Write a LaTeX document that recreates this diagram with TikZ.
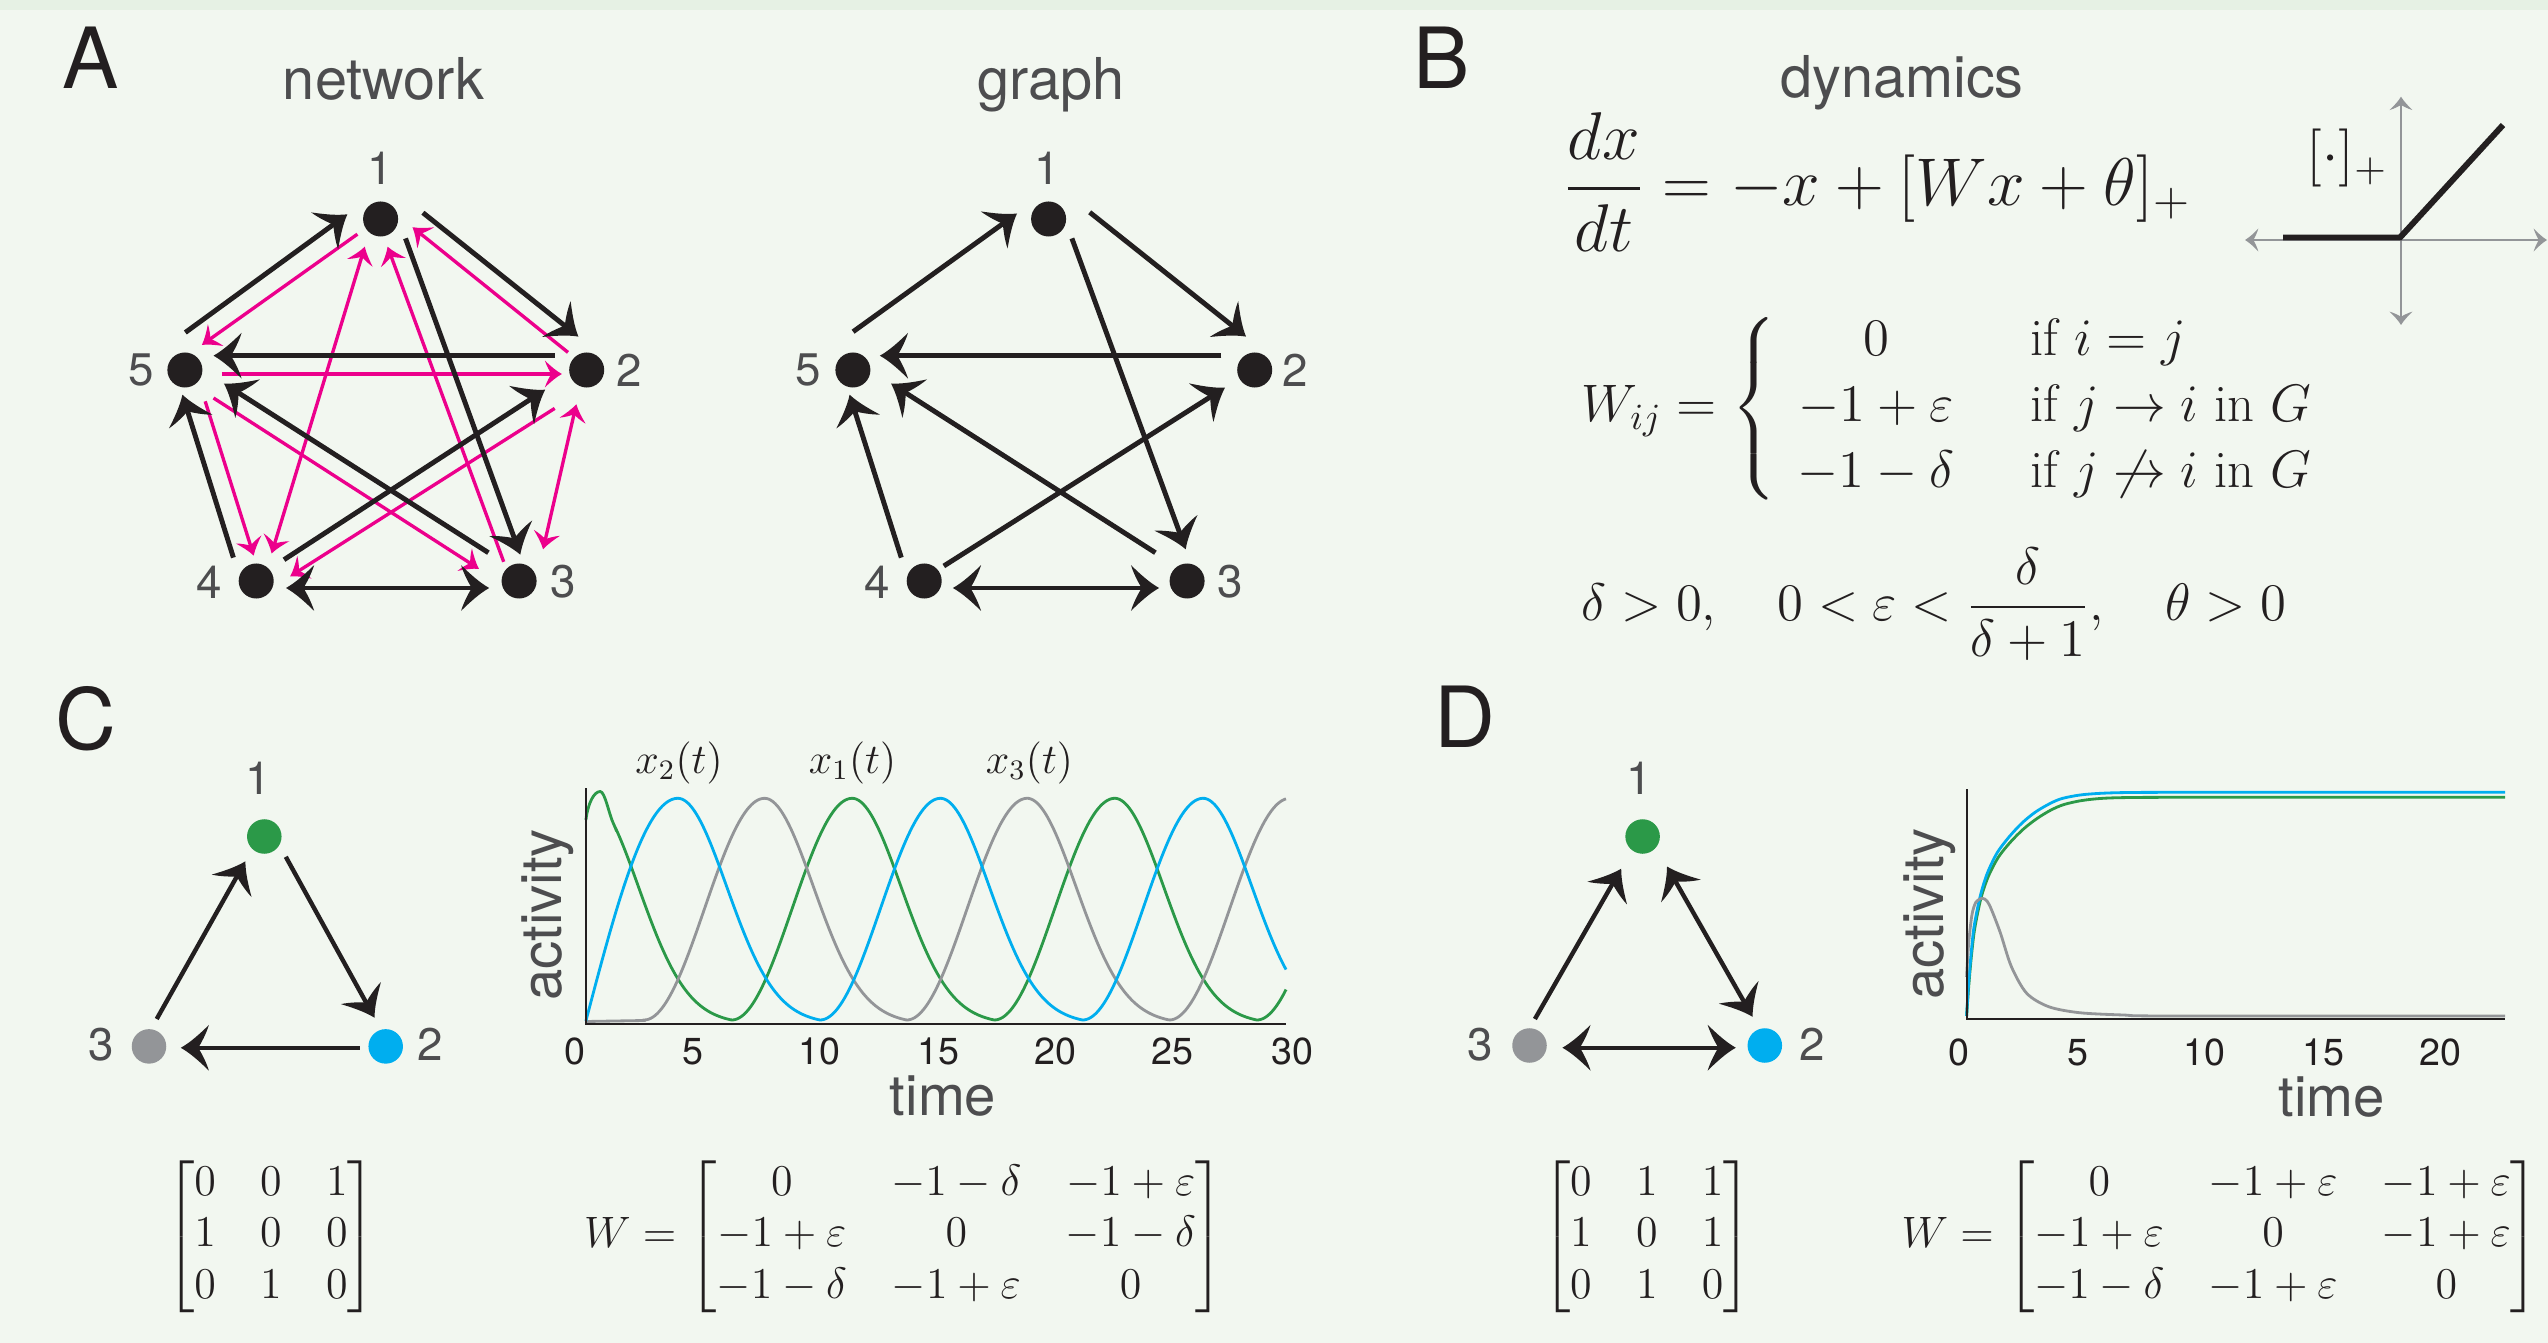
\RequirePackage{fix-cm}
\documentclass[tikz,border=0pt]{standalone}
\usepackage{amsmath}
\usepackage{fontspec}
\newfontfamily\hv{TeX Gyre Heros}
\usetikzlibrary{arrows.meta,calc}

\pgfdeclarearrow{
  name = Fin,
  parameters = {\the\pgfarrowlength,\the\pgfarrowwidth},
  setup code = {
    \pgfarrowssettipend{0pt}
    \pgfarrowssetlineend{-0.52\pgfarrowlength}
    \pgfarrowssetvisualbackend{-0.6\pgfarrowlength}
    \pgfarrowssetbackend{-\pgfarrowlength}
    \pgfarrowshullpoint{0pt}{0pt}
    \pgfarrowsupperhullpoint{-\pgfarrowlength}{0.5\pgfarrowwidth}
    \pgfarrowssavethe\pgfarrowlength
    \pgfarrowssavethe\pgfarrowwidth
  },
  drawing code = {
    \pgfpathmoveto{\pgfqpoint{0pt}{0pt}}
    \pgfpathcurveto{\pgfqpoint{-0.35\pgfarrowlength}{0.12\pgfarrowwidth}}{\pgfqpoint{-0.7\pgfarrowlength}{0.32\pgfarrowwidth}}{\pgfqpoint{-\pgfarrowlength}{0.5\pgfarrowwidth}}
    \pgfpathcurveto{\pgfqpoint{-0.9\pgfarrowlength}{0.3\pgfarrowwidth}}{\pgfqpoint{-0.72\pgfarrowlength}{0.1\pgfarrowwidth}}{\pgfqpoint{-0.62\pgfarrowlength}{0pt}}
    \pgfpathcurveto{\pgfqpoint{-0.72\pgfarrowlength}{-0.1\pgfarrowwidth}}{\pgfqpoint{-0.9\pgfarrowlength}{-0.3\pgfarrowwidth}}{\pgfqpoint{-\pgfarrowlength}{-0.5\pgfarrowwidth}}
    \pgfpathcurveto{\pgfqpoint{-0.7\pgfarrowlength}{-0.32\pgfarrowwidth}}{\pgfqpoint{-0.35\pgfarrowlength}{-0.12\pgfarrowwidth}}{\pgfqpoint{0pt}{0pt}}
    \pgfpathclose
    \pgfusepathqfill
  },
  defaults = {length = 8pt, width = 13pt}
}

\definecolor{ink}{HTML}{231F20}
\definecolor{pnk}{HTML}{EC008C}
\definecolor{txtg}{HTML}{4D4D4F}
\definecolor{cgreen}{HTML}{2B9948}
\definecolor{cblue}{HTML}{00AEEF}
\definecolor{cgray}{HTML}{939598}
\definecolor{bgc}{HTML}{F2F7F0}
\definecolor{bgtop}{HTML}{E6F1E4}

\tikzset{
  dot/.style={circle, fill=ink, draw=none, minimum size=0.35cm, inner sep=0pt},
  cdot/.style={circle, draw=none, minimum size=0.345cm, inner sep=0pt},
  numlbl/.style={text=txtg, font=\hv\fontsize{13}{13}\selectfont, inner sep=0pt},
  title/.style={text=txtg, font=\hv\fontsize{16.4}{18}\selectfont, inner sep=0pt, anchor=base},
  panel/.style={text=ink, font=\hv\fontsize{24}{26}\selectfont, inner sep=0pt, anchor=base west},
  blk/.style={color=ink, line width=1.4pt, >={Fin[length=8pt,width=13pt]}},
  pnkl/.style={color=pnk, line width=0.95pt, >={Fin[length=4.8pt,width=7.6pt]}},
  tri/.style={color=ink, line width=1.25pt, >={Fin[length=8pt,width=13pt]}},
  gax/.style={color=cgray, line width=0.75pt, >={Fin[length=3.8pt,width=6.5pt]}},
  axl/.style={draw=ink, line width=0.5pt},
  cw/.style={line width=0.8pt},
  tick/.style={text=ink, font=\hv\fontsize{10.7}{11}\selectfont, inner sep=0pt},
  axlbl/.style={text=txtg, font=\hv\fontsize{16}{17}\selectfont, inner sep=0pt},
  mth/.style={text=ink, inner sep=0pt},
}

\begin{document}
\begin{tikzpicture}[x=0.01cm, y=-0.01cm,
  declare function={
    tw(\va)=\va-262.6*floor((\va+120.5)/262.6);
    hh(\vb)=ifthenelse(\vb<0, 0.5+0.5*cos(1.49378*\vb), exp(0-(\vb/69)*(\vb/69))-0.0145*\vb/142.1);
    wave(\vc,\vd)=hh(tw(\vc-\vd));
  }]
\useasboundingbox (0,0) rectangle (2548,1343);
\fill[bgc] (0,0) rectangle (2548,1343);
\fill[bgtop] (0,0) rectangle (2548,10);

% ---------- panel letters and titles
\node[panel] (pA) at (62,89) {A};
\node[panel] (pB) at (1413,89) {B};
\node[panel] (pC) at (55,749) {C};
\node[panel] (pD) at (1434,747) {D};
\node[title] (tnet) at (383.5,99.5) {network};
\node[title] (tgr) at (1051,99.5) {graph};
\node[title] (tdyn) at (1902,98) {dynamics};

% ---------- network
\node[dot] (a1) at (380.6,219) {};
\node[dot] (a2) at (586.7,370) {};
\node[dot] (a3) at (519.1,581) {};
\node[dot] (a4) at (256.2,581) {};
\node[dot] (a5) at (184.9,370) {};
\node[numlbl] (la1) at (380.6,168) {1};
\node[numlbl] (la2) at (629,370) {2};
\node[numlbl] (la3) at (563,582) {3};
\node[numlbl] (la4) at (209,582) {4};
\node[numlbl] (la5) at (141,370) {5};

\draw[pnkl,->] ($(a1)+(-23.2,15.2)$) -- ($(a5)+(17,-25.1)$);
\draw[pnkl,->] ($(a2)+(-18.7,-17.6)$) -- ($(a1)+(31.9,8.2)$);
\draw[pnkl,->] ($(a5)+(36.9,4)$) -- ($(a2)+(-24.9,4)$);
\draw[pnkl,<->] ($(a1)+(-15.8,27.7)$) -- ($(a4)+(15.4,-27.5)$);
\draw[pnkl,->] ($(a3)+(-15.4,-19.2)$) -- ($(a1)+(7,27.7)$);
\draw[pnkl,<->] ($(a2)+(-10.4,34.2)$) -- ($(a3)+(24,-31.7)$);
\draw[pnkl,->] ($(a5)+(20.3,31.3)$) -- ($(a4)+(-2.5,-25.4)$);
\draw[pnkl,->] ($(a5)+(28.6,28)$) -- ($(a3)+(-40.2,-12.2)$);
\draw[pnkl,->] ($(a2)+(-32,38.4)$) -- ($(a4)+(34,-4.7)$);

\draw[blk,->] ($(a5)+(0.4,-37.5)$) -- ($(a1)+(-33.2,-4.7)$);
\draw[blk,->] ($(a1)+(42.3,-6.3)$) -- ($(a2)+(-8.3,-33.4)$);
\draw[blk,->] ($(a1)+(24.9,19.4)$) -- ($(a3)+(1.2,-26.3)$);
\draw[blk,->] ($(a2)+(-32,-14.3)$) -- ($(a5)+(28.6,-14.3)$);
\draw[blk,->] ($(a3)+(-30.7,-28.3)$) -- ($(a5)+(39,13.5)$);
\draw[blk,->] ($(a4)+(-22.8,-23.4)$) -- ($(a5)+(-2.5,24.7)$);
\draw[blk,->] ($(a4)+(27.8,-21.3)$) -- ($(a2)+(-41.5,19.7)$);
\draw[blk,<->] ($(a4)+(29.8,7)$) -- ($(a3)+(-29.9,7)$);

% ---------- graph
\node[dot] (b1) at (1048.6,219) {};
\node[dot] (b2) at (1254.7,370) {};
\node[dot] (b3) at (1187.1,581) {};
\node[dot] (b4) at (924.2,581) {};
\node[dot] (b5) at (852.9,370) {};
\node[numlbl] (lb1) at (1047,168) {1};
\node[numlbl] (lb2) at (1295,370) {2};
\node[numlbl] (lb3) at (1230,582) {3};
\node[numlbl] (lb4) at (877,582) {4};
\node[numlbl] (lb5) at (808,370) {5};

\draw[blk,->] ($(b5)+(0.2,-38.3)$) -- ($(b1)+(-31.6,-5.5)$);
\draw[blk,->] ($(b1)+(41.1,-6.7)$) -- ($(b2)+(-8.7,-33.4)$);
\draw[blk,->] ($(b1)+(23.3,19.4)$) -- ($(b3)+(-1.4,-31.7)$);
\draw[blk,->] ($(b2)+(-33.3,-14.3)$) -- ($(b5)+(27,-14.3)$);
\draw[blk,->] ($(b3)+(-31.7,-28.3)$) -- ($(b5)+(38.1,13.5)$);
\draw[blk,->] ($(b4)+(-22.9,-23.4)$) -- ($(b5)+(-3.3,24.7)$);
\draw[blk,->] ($(b4)+(19.6,-15)$) -- ($(b2)+(-29.7,17.6)$);
\draw[blk,<->] ($(b4)+(28.7,7)$) -- ($(b3)+(-28,7)$);

% ---------- B: dynamics
\node[mth, anchor=base west, font=\fontsize{19.2}{21}\selectfont] (eq1) at (1563,205.4)
  {$\displaystyle \frac{dx}{dt} = -x + [Wx+\theta]_+$};
\node[mth, anchor=base west, font=\fontsize{15}{18.8}\selectfont] (eq2) at (1581,421.7)
  {$W_{ij} = \left\{\begin{array}{@{\hspace{6pt}}c@{\hspace{21.8pt}}l@{}}
     0 & \text{if } i=j\\
     -1+\varepsilon & \text{if } j\to i \text{ in } G\\
     -1-\delta & \text{if } j\not\to i \text{ in } G
   \end{array}\right.$};
\node[mth, anchor=base west, font=\fontsize{15}{15.7}\selectfont] (eq3) at (1581,620)
  {$\delta>0,\quad 0<\varepsilon<\dfrac{\delta}{\delta+1},\quad \theta>0$};

% ReLU sketch
\coordinate (rO) at (2401,240);
\draw[gax,<->] ($(rO)+(-156,0)$) -- ($(rO)+(146,0)$);
\draw[gax,<->] ($(rO)+(0,-143.3)$) -- ($(rO)+(0,85)$);
\draw[ink, line width=1.7pt] ($(rO)+(-118,-2.5)$) -- ($(rO)+(-1,-2.5)$) -- ($(rO)+(102,-115)$);
\node[mth, anchor=west, font=\fontsize{16.5}{18}\selectfont] (relu) at (2306,158) {$[\cdot]_+$};

% ---------- C
\node[numlbl] (lc1) at (258.3,778) {1};
\node[numlbl] (lc3) at (101.6,1044.7) {3};
\node[numlbl] (lc2) at (430.5,1044.7) {2};
\node[cdot, fill=cgreen] (c1) at (264.3,836.5) {};
\node[cdot, fill=cblue] (c2) at (385.7,1046.4) {};
\node[cdot, fill=cgray] (c3) at (149,1046.4) {};
\draw[tri,->] ($(c3)+(7.7,-27.4)$) -- ($(c1)+(-18.9,24.8)$);
\draw[tri,->] ($(c1)+(21.5,20.3)$) -- ($(c2)+(-11.2,-28.7)$);
\draw[tri,->] ($(c2)+(-25.8,1.4)$) -- ($(c3)+(31.8,1.4)$);

% plot C
\draw[cgreen,cw] (585.9,820) .. controls (588,803) and (594,791.5) .. (600.2,791.5)
   .. controls (605,791.5) and (609,814.8) .. (614,824.9)
   -- plot[domain=614:1286, samples=340, variable=\xx] (\xx,{1020-221.7*wave(\xx,589.6)});
\draw[cgray,cw] (585.9,1021.5) -- (644.1,1020.5) -- plot[domain=644.1:1286, samples=300, variable=\xx] (\xx,{1020-221.7*wave(\xx,502)});
\draw[cblue,cw] plot[domain=585.9:677.9, samples=60, variable=\xx] (\xx,{1021-222.7*sin(0.97826*(\xx-585.9))})
   -- plot[domain=677.9:1286, samples=300, variable=\xx] (\xx,{1020-221.7*wave(\xx,677.9)});
\draw[axl] (585.9,788.3) -- (585.9,1024) -- (1286,1024);
\node[tick] (tc0) at (574.7,1051.5) {0};
\node[tick] (tc5) at (693,1051.5) {5};
\node[tick] (tc10) at (819.6,1051.5) {10};
\node[tick] (tc15) at (938,1051.5) {15};
\node[tick] (tc20) at (1055.3,1051.5) {20};
\node[tick] (tc25) at (1172.7,1051.5) {25};
\node[tick] (tc30) at (1292.6,1051.5) {30};
\node[axlbl, anchor=base] (timeC) at (943,1115) {time};
\node[axlbl, rotate=90] (actC) at (547.6,915) {activity};
\node[mth, anchor=base, font=\fontsize{12}{13}\selectfont] (x2l) at (679,773) {$x_2(t)$};
\node[mth, anchor=base, font=\fontsize{12}{13}\selectfont] (x1l) at (852.5,773) {$x_1(t)$};
\node[mth, anchor=base, font=\fontsize{12}{13}\selectfont] (x3l) at (1029.4,773) {$x_3(t)$};

% matrices C
\node[mth, font=\fontsize{12.5}{14.7}\selectfont] (adjC) at (271,1236.4)
  {\setlength{\arraycolsep}{6.3pt}$\begin{bmatrix}0&0&1\\1&0&0\\0&1&0\end{bmatrix}$};
\node[mth, font=\fontsize{12.5}{14.7}\selectfont] (WC) at (904,1236.4)
  {\setlength{\arraycolsep}{6.3pt}$W=\begin{bmatrix}0&-1-\delta&-1+\varepsilon\\-1+\varepsilon&0&-1-\delta\\-1-\delta&-1+\varepsilon&0\end{bmatrix}$};

% ---------- D
\node[numlbl] (ld1) at (1638.8,778) {1};
\node[numlbl] (ld3) at (1479.9,1044.6) {3};
\node[numlbl] (ld2) at (1812.2,1044.6) {2};
\node[cdot, fill=cgreen] (d1) at (1642.6,836.5) {};
\node[cdot, fill=cblue] (d2) at (1764.8,1045.5) {};
\node[cdot, fill=cgray] (d3) at (1529.5,1045.5) {};
\draw[tri,->] ($(d3)+(5.4,-26.5)$) -- ($(d1)+(-21.4,32.2)$);
\draw[tri,<->] ($(d1)+(24.4,30)$) -- ($(d2)+(-12.2,-28.7)$);
\draw[tri,<->] ($(d3)+(32.9,2.2)$) -- ($(d2)+(-29,2.2)$);

% plot D
\draw[cgreen,cw] plot[smooth, tension=0.5] coordinates {(1966.6,1016) (1968.8,985) (1971.5,955) (1974.8,928) (1981,898) (1988.5,876) (1998.5,857) (2010.5,842) (2023.5,829) (2037,818.5) (2051,810) (2064,804.5) (2082,800.5) (2103,798.3) (2132,797.5) (2200,797.3) (2505,797.3)};
\draw[cblue,cw] plot[smooth, tension=0.5] coordinates {(1966.6,1016) (1968.5,985) (1971,955) (1974,927) (1980,897) (1987,874) (1997,853) (2009,837) (2022,823) (2035.5,812) (2050,803.5) (2062,798.5) (2080,795) (2101,793.3) (2130,792.5) (2200,792.3) (2505,792.3)};
\draw[cgray,cw] plot[smooth, tension=0.5] coordinates {(1966.6,977) (1968.5,945) (1971.9,915) (1976,902) (1982,898.3) (1987,901) (1991.6,910) (2000.4,933) (2011.4,966.7) (2026.7,993.3) (2048.7,1006.7) (2079.4,1012.7) (2123.3,1015) (2170,1016) (2505,1016)};
\draw[axl] (1966.6,789.3) -- (1966.6,1019.3) -- (2505,1019.3);
\node[tick] (td0) at (1958.7,1052.5) {0};
\node[tick] (td5) at (2078,1052.5) {5};
\node[tick] (td10) at (2204.5,1052.5) {10};
\node[tick] (td15) at (2323,1052.5) {15};
\node[tick] (td20) at (2440,1052.5) {20};
\node[axlbl, anchor=base] (timeD) at (2331.5,1116.5) {time};
\node[axlbl, rotate=90] (actD) at (1930,914) {activity};

% matrices D
\node[mth, font=\fontsize{12.5}{14.7}\selectfont] (adjD) at (1646.8,1236.4)
  {\setlength{\arraycolsep}{6.3pt}$\begin{bmatrix}0&1&1\\1&0&1\\0&1&0\end{bmatrix}$};
\node[mth, font=\fontsize{12.5}{14.7}\selectfont] (WD) at (2220.2,1236.4)
  {\setlength{\arraycolsep}{6.3pt}$W=\begin{bmatrix}0&-1+\varepsilon&-1+\varepsilon\\-1+\varepsilon&0&-1+\varepsilon\\-1-\delta&-1+\varepsilon&0\end{bmatrix}$};
\end{tikzpicture}
\end{document}
